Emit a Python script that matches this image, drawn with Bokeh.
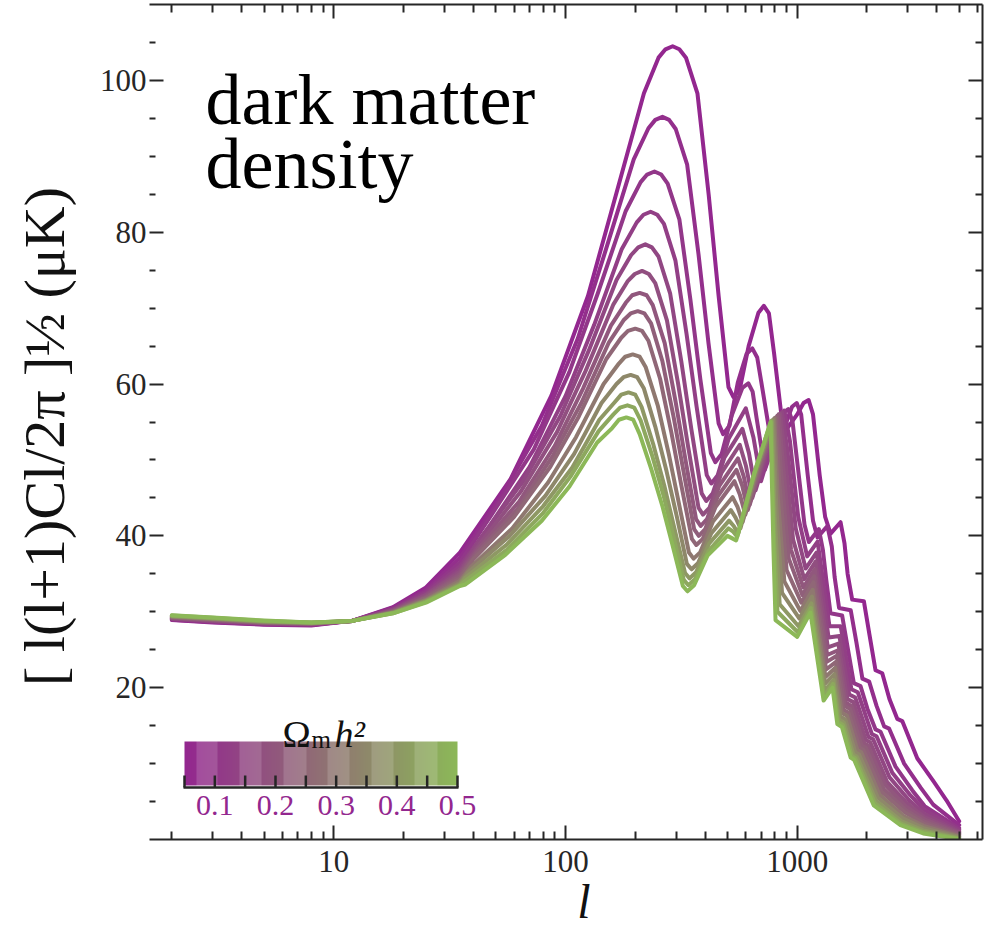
import math
from bokeh.plotting import figure
from bokeh.models import (Range1d, LinearAxis, LogAxis, FixedTicker, ColorBar,
                          LinearColorMapper, Label)
from bokeh.embed import file_html
from bokeh.resources import INLINE

# ---------------- data ----------------
OMH2 = [0.05, 0.075, 0.1, 0.125, 0.15, 0.175, 0.2, 0.225, 0.25, 0.3, 0.35, 0.4, 0.45, 0.5]

L0 = [2, 3, 5, 8, 12, 18, 25, 35, 58, 87, 125, 165, 218, 252, 270, 290, 310, 331, 371, 415, 458, 505, 530, 565, 617, 680, 718, 755, 795, 873, 1000, 1065, 1120, 1170, 1250, 1320, 1393, 1538, 1600, 1650, 1727, 1939, 2050, 2177, 2328, 2500, 2702, 2840, 3296, 3890, 4400, 5000]
V0 = [28.9, 28.6, 28.3, 28.2, 28.8, 30.6, 33.2, 37.8, 47.5, 58.5, 71.6, 84.9, 98.3, 103.0, 104.1, 104.5, 104.1, 103.0, 98.3, 84.9, 71.6, 59.6, 58.3, 59.3, 65.0, 69.4, 70.3, 69.3, 64.0, 53.5, 56.0, 57.5, 57.9, 56.0, 48.0, 42.5, 40.3, 41.8, 39.0, 35.0, 31.6, 31.4, 27.0, 22.3, 21.9, 18.5, 15.9, 15.6, 10.7, 7.6, 5.2, 2.4]

L1 = [2, 3, 5, 8, 12, 18, 25, 35, 52, 79, 113, 149, 197, 228, 244, 262, 280, 299, 335, 375, 414, 458, 479, 510, 554, 605, 640, 672, 710, 787, 885, 950, 995, 1040, 1110, 1170, 1223, 1350, 1410, 1450, 1516, 1702, 1800, 1911, 2044, 2200, 2372, 2494, 2894, 3415, 3863, 5000]
V1 = [28.95, 28.65, 28.35, 28.25, 28.8, 30.5, 32.9, 37.1, 44.9, 54.5, 66.0, 77.6, 89.6, 93.7, 94.8, 95.2, 94.8, 93.6, 88.9, 77.1, 65.4, 54.8, 53.4, 54.5, 60.2, 64.0, 64.7, 63.5, 59.1, 50.8, 54.5, 57.0, 57.5, 56.0, 48.0, 42.0, 39.8, 41.3, 38.6, 34.6, 30.5, 30.2, 26.0, 21.2, 20.8, 17.6, 14.9, 14.6, 10.0, 6.8, 4.6, 1.9]

L2 = [2, 3, 5, 8, 12, 18, 25, 35, 48, 73, 104, 138, 182, 211, 225, 242, 259, 276, 310, 346, 382, 424, 443, 472, 522, 580, 615, 642, 668, 725, 814, 870, 915, 955, 1020, 1075, 1123, 1240, 1290, 1335, 1392, 1563, 1650, 1755, 1876, 2010, 2178, 2289, 2657, 3135, 3546, 5000]
V2 = [29.0, 28.7, 28.4, 28.3, 28.8, 30.4, 32.7, 36.5, 42.8, 51.4, 61.6, 72.0, 82.8, 86.6, 87.6, 88.0, 87.6, 86.4, 81.7, 71.1, 60.6, 50.9, 49.7, 50.8, 55.9, 59.5, 60.1, 59.0, 55.5, 48.7, 53.1, 56.2, 56.7, 55.0, 47.5, 41.5, 39.2, 40.9, 38.2, 34.2, 29.8, 29.5, 25.3, 20.6, 20.2, 17.2, 14.5, 14.2, 9.6, 6.5, 4.4, 1.5]

L3 = [2, 3, 5, 8, 12, 18, 25, 35, 47, 70, 100, 133, 175, 203, 217, 233, 249, 266, 298, 333, 368, 407, 426, 454, 506, 600, 647, 698, 784, 880, 930, 1010, 1104, 1224, 1378, 1540, 1713, 1825, 2098, 2200, 2572, 3082, 3539, 5000]
V3 = [29.05, 28.75, 28.45, 28.35, 28.8, 30.3, 32.5, 36.0, 41.3, 49.1, 58.4, 67.8, 77.8, 81.3, 82.3, 82.7, 82.3, 81.1, 76.3, 66.6, 57.0, 48.0, 46.9, 48.0, 52.8, 56.8, 53.0, 47.2, 52.3, 56.5, 52.5, 42.5, 37.3, 39.25, 28.1, 28.1, 19.8, 19.4, 13.9, 13.6, 8.8, 5.8, 3.9, 1.28]

L4 = [2, 3, 5, 8, 12, 18, 25, 35, 44, 66, 95, 126, 166, 192, 206, 221, 236, 252, 283, 316, 349, 387, 405, 432, 485, 580, 619, 661, 754, 860, 905, 985, 1087, 1211, 1366, 1521, 1677, 1781, 2032, 2127, 2501, 3035, 3533, 5000]
V4 = [29.1, 28.8, 28.5, 28.4, 28.8, 30.25, 32.3, 35.6, 40.1, 47.3, 55.8, 64.4, 73.7, 77.0, 78.0, 78.4, 78.0, 76.8, 71.9, 63.0, 54.1, 45.6, 44.6, 45.6, 50.3, 54.1, 50.9, 46.0, 51.7, 56.3, 51.5, 41.0, 35.7, 37.8, 26.6, 26.8, 19.1, 18.7, 13.5, 13.2, 8.2, 5.2, 3.4, 1.09]

L5 = [2, 3, 5, 8, 12, 18, 25, 35, 43, 64, 92, 122, 161, 186, 199, 214, 229, 244, 274, 306, 338, 375, 392, 418, 471, 565, 601, 640, 735, 845, 885, 960, 1073, 1200, 1356, 1505, 1647, 1746, 1978, 2066, 2442, 2996, 3528, 5000]
V5 = [29.15, 28.85, 28.5, 28.4, 28.8, 30.2, 32.2, 35.3, 39.1, 45.8, 53.7, 61.7, 70.5, 73.6, 74.5, 74.9, 74.5, 73.3, 68.4, 60.1, 51.8, 43.7, 42.8, 43.7, 48.3, 52.0, 49.2, 45.0, 51.1, 56.1, 50.5, 39.5, 34.3, 36.6, 25.3, 25.8, 18.5, 18.1, 13.1, 12.8, 7.6, 4.7, 3.0, 0.93]

L6 = [2, 3, 5, 8, 12, 18, 25, 35, 42, 63, 90, 119, 157, 182, 194, 209, 224, 238, 268, 299, 330, 366, 383, 408, 461, 555, 588, 624, 721, 832, 868, 940, 1062, 1191, 1347, 1493, 1623, 1717, 1934, 2018, 2395, 2965, 3525, 5000]
V6 = [29.2, 28.9, 28.55, 28.45, 28.8, 30.1, 32.0, 35.0, 38.3, 44.5, 51.9, 59.4, 67.7, 70.7, 71.7, 72.0, 71.7, 70.4, 65.4, 57.6, 49.9, 42.2, 41.3, 42.2, 46.6, 50.2, 47.8, 44.1, 50.6, 56.0, 49.5, 38.2, 33.2, 35.6, 24.3, 24.9, 18.0, 17.6, 12.7, 12.4, 7.2, 4.3, 2.7, 0.80]

L7 = [2, 3, 5, 8, 12, 18, 25, 35, 41, 62, 88, 117, 154, 178, 191, 205, 219, 234, 262, 293, 324, 359, 376, 401, 454, 547, 579, 612, 708, 820, 852, 920, 1052, 1183, 1340, 1482, 1602, 1692, 1896, 1976, 2354, 2938, 3521, 5000]
V7 = [29.25, 28.95, 28.55, 28.45, 28.8, 30.05, 31.9, 34.7, 37.6, 43.5, 50.5, 57.5, 65.5, 68.4, 69.3, 69.6, 69.3, 68.0, 63.0, 55.6, 48.3, 40.9, 40.0, 40.9, 45.2, 48.7, 46.6, 43.4, 50.2, 55.8, 48.5, 37.0, 32.2, 34.7, 23.4, 24.2, 17.6, 17.2, 12.4, 12.1, 6.7, 3.9, 2.4, 0.69]

L8 = [2, 3, 5, 8, 12, 18, 25, 35, 40, 60, 86, 114, 150, 174, 186, 200, 214, 228, 256, 286, 316, 351, 367, 391, 444, 536, 566, 597, 695, 808, 838, 900, 1042, 1175, 1332, 1470, 1580, 1667, 1858, 1935, 2313, 2911, 3518, 5000]
V8 = [29.3, 29.0, 28.6, 28.5, 28.8, 30.0, 31.8, 34.4, 36.9, 42.5, 49.1, 55.7, 63.3, 66.1, 67.0, 67.3, 67.0, 65.7, 60.7, 53.7, 46.7, 39.6, 38.8, 39.6, 43.8, 47.2, 45.4, 42.8, 49.8, 55.6, 47.0, 35.5, 31.2, 33.9, 22.4, 23.4, 17.1, 16.7, 12.1, 11.8, 6.3, 3.6, 2.1, 0.57]

L9 = [2, 3, 5, 8, 12, 18, 25, 35, 39, 59, 84, 111, 146, 170, 181, 195, 209, 222, 250, 279, 308, 341, 357, 381, 433, 526, 553, 581, 680, 797, 823, 880, 1032, 1166, 1324, 1457, 1557, 1640, 1818, 1889, 2268, 2880, 3513, 5000]
V9 = [29.35, 29.05, 28.65, 28.5, 28.8, 29.95, 31.6, 34.1, 35.9, 41.0, 47.0, 53.0, 60.0, 62.7, 63.6, 63.9, 63.6, 62.2, 57.2, 50.8, 44.4, 37.8, 37.0, 37.8, 41.9, 45.1, 43.8, 41.8, 49.3, 55.5, 45.5, 34.0, 30.1, 32.9, 21.4, 22.6, 16.7, 16.3, 11.8, 11.5, 5.9, 3.1, 1.8, 0.44]

L10 = [2, 3, 5, 8, 12, 18, 25, 35, 38, 57, 82, 109, 143, 166, 178, 191, 204, 218, 244, 273, 302, 334, 350, 373, 425, 517, 542, 569, 670, 788, 812, 860, 1022, 1158, 1317, 1446, 1537, 1615, 1781, 1850, 2230, 2852, 3509, 5000]
V10 = [29.4, 29.1, 28.7, 28.55, 28.8, 29.9, 31.5, 33.8, 35.2, 39.9, 45.3, 50.8, 57.5, 60.0, 60.9, 61.2, 60.9, 59.4, 54.4, 48.5, 42.6, 36.3, 35.6, 36.4, 40.3, 43.4, 42.4, 41.0, 48.9, 55.3, 44.0, 32.5, 29.1, 32.0, 20.5, 21.8, 16.2, 15.8, 11.5, 11.2, 5.5, 2.8, 1.5, 0.33]

L11 = [2, 3, 5, 8, 12, 18, 25, 35, 37, 56, 80, 107, 140, 163, 174, 187, 200, 213, 239, 267, 295, 328, 343, 366, 417, 508, 532, 557, 658, 778, 800, 840, 1013, 1151, 1310, 1435, 1517, 1592, 1747, 1812, 2191, 2826, 3505, 5000]
V11 = [29.45, 29.15, 28.75, 28.55, 28.8, 29.85, 31.4, 33.6, 34.5, 38.9, 43.9, 49.0, 55.3, 57.6, 58.6, 58.9, 58.6, 57.0, 52.1, 46.6, 41.0, 35.1, 34.4, 35.2, 39.0, 42.0, 41.3, 40.3, 48.5, 55.2, 42.5, 31.0, 28.1, 31.1, 19.6, 21.0, 15.8, 15.4, 11.2, 10.9, 5.1, 2.4, 1.2, 0.21]

L12 = [2, 3, 5, 8, 12, 18, 25, 35, 37, 56, 80, 105, 139, 161, 172, 185, 198, 211, 237, 265, 292, 324, 339, 362, 414, 505, 527, 551, 652, 772, 793, 822, 1006, 1145, 1305, 1427, 1502, 1574, 1721, 1784, 2163, 2806, 3502, 5000]
V12 = [29.5, 29.2, 28.8, 28.6, 28.8, 29.8, 31.3, 33.5, 34.1, 38.2, 43.0, 47.8, 53.8, 56.0, 56.9, 57.2, 56.9, 55.2, 50.5, 45.3, 40.0, 34.2, 33.5, 34.3, 38.0, 41.0, 40.6, 39.9, 48.3, 55.1, 40.5, 30.0, 27.3, 30.5, 18.9, 20.5, 15.5, 15.1, 11.0, 10.7, 4.8, 2.1, 0.98, 0.12]

L13 = [2, 3, 5, 8, 12, 18, 25, 35, 37, 55, 79, 104, 137, 159, 170, 183, 196, 209, 234, 262, 289, 321, 336, 359, 410, 500, 522, 545, 647, 767, 790, 806, 1000, 1140, 1300, 1420, 1490, 1560, 1700, 1760, 2140, 2790, 3500, 5000]
V13 = [29.55, 29.25, 28.85, 28.6, 28.8, 29.8, 31.2, 33.4, 33.6, 37.5, 42.0, 46.5, 52.3, 54.2, 55.3, 55.6, 55.3, 53.4, 48.9, 43.9, 38.9, 33.4, 32.7, 33.5, 37.4, 40.0, 39.7, 39.4, 47.8, 55.0, 38.0, 28.9, 26.7, 29.9, 18.3, 20.0, 15.2, 14.8, 10.8, 10.5, 4.5, 1.9, 0.8, 0.05]

X_MAJOR = [10, 100, 1000]
X_MINOR = [2, 3, 4, 5, 6, 7, 8, 9, 20, 30, 40, 50, 60, 70, 80, 90,
           200, 300, 400, 500, 600, 700, 800, 900, 2000, 3000, 4000, 5000, 6000]
Y_MAJOR = [20, 40, 60, 80, 100]
Y_MINOR = [5, 10, 15, 25, 30, 35, 45, 50, 55, 65, 70, 75, 85, 90, 95, 105]
CB_MAJOR = [0.1, 0.2, 0.3, 0.4, 0.5]
CB_MINOR = [0.05, 0.15, 0.25, 0.35, 0.45]

CURVES_L = [L0, L1, L2, L3, L4, L5, L6, L7, L8, L9, L10, L11, L12, L13]
CURVES_V = [V0, V1, V2, V3, V4, V5, V6, V7, V8, V9, V10, V11, V12, V13]

# ---------------- style ----------------
SERIF = "Liberation Serif"
INK = "#262626"
PURPLE = (147, 39, 143)
GREEN = (140, 184, 88)
LO, HI = 0.05, 0.5
XR = (1.602, 6304)
YR = (0, 110)
FW, FH = 833, 835


def blend(t, lift=0.0):
    c = [a + (b - a) * t for a, b in zip(PURPLE, GREEN)]
    c = [v + (255 - v) * lift for v in c]
    return "#%02x%02x%02x" % tuple(int(round(v)) for v in c)


def frame_x(px):
    """screen offset inside the frame -> data x (log axis)"""
    a, b = math.log10(XR[0]), math.log10(XR[1])
    return 10 ** (a + px / FW * (b - a))


def frame_y(py):
    return YR[0] + py / FH * (YR[1] - YR[0])


striped = []
for i in range(256):
    t = i / 255
    phase = (t * 6.2 + 0.75) % 1.0
    striped.append(blend(t, 0.15 if phase < 0.5 else 0.0))

p = figure(x_axis_type="log", x_range=Range1d(*XR), y_range=Range1d(*YR),
           frame_width=FW, frame_height=FH,
           min_border_left=149, min_border_right=6, min_border_top=4, min_border_bottom=92,
           output_backend="svg", toolbar_location=None)
p.outline_line_color = None
p.xgrid.visible = False
p.ygrid.visible = False
p.background_fill_color = "white"
p.border_fill_color = "white"

for w, xs, ys in zip(OMH2, CURVES_L, CURVES_V):
    t = (w - LO) / (HI - LO)
    p.line(xs, ys, line_width=4, line_color=blend(t), line_join="round", line_cap="round")


def style_axis(ax, labels=True):
    ax.axis_line_color = INK
    ax.axis_line_width = 2
    ax.major_tick_line_color = INK
    ax.major_tick_line_width = 2
    ax.minor_tick_line_color = INK
    ax.minor_tick_line_width = 2
    ax.major_tick_out = 0
    ax.minor_tick_out = 0
    ax.major_label_text_font = SERIF
    if labels:
        ax.major_label_text_font_size = "31px"
        ax.major_label_text_color = INK
    else:
        ax.major_label_text_font_size = "1px"
        ax.major_label_text_alpha = 0
        ax.major_label_standoff = 0


# bottom
xb = p.xaxis[0]
xb.ticker = FixedTicker(ticks=X_MAJOR, minor_ticks=X_MINOR)
xb.major_label_overrides = {10: "10", 100: "100", 1000: "1000"}
style_axis(xb)
xb.major_tick_in = 14
xb.minor_tick_in = 8
xb.major_label_standoff = 11
xb.axis_label = "\u00a0\u00a0\u00a0l"
xb.axis_label_text_font = SERIF
xb.axis_label_text_font_style = "italic"
xb.axis_label_text_font_size = "48px"
xb.axis_label_text_color = "#111111"
xb.axis_label_standoff = 0

# top
xt = LogAxis(ticker=FixedTicker(ticks=X_MAJOR, minor_ticks=X_MINOR))
style_axis(xt, labels=False)
xt.major_tick_in = 14
xt.minor_tick_in = 8
p.add_layout(xt, "above")

# left
yl = p.yaxis[0]
yl.ticker = FixedTicker(ticks=Y_MAJOR, minor_ticks=Y_MINOR)
style_axis(yl)
yl.axis_line_color = None
yl.major_tick_in = 14
yl.minor_tick_in = 6
yl.major_label_standoff = 3
yl.axis_label = "[ l(l+1)Cl/2\u03c0 ]\u00bd (\u03bcK)\u00a0\u00a0"
yl.axis_label_text_font = SERIF
yl.axis_label_text_font_style = "normal"
yl.axis_label_text_font_size = "58px"
yl.axis_label_text_color = "#111111"
yl.axis_label_standoff = 20

# right
yr = LinearAxis(ticker=FixedTicker(ticks=Y_MAJOR, minor_ticks=Y_MINOR))
style_axis(yr, labels=False)
yr.major_tick_in = 14
yr.minor_tick_in = 7
p.add_layout(yr, "right")

# caption
p.add_layout(Label(x=56, y=740, x_units="screen", y_units="screen", text="dark matter",
                   text_font=SERIF, text_font_size="72px", text_color="black",
                   text_baseline="alphabetic"))
p.add_layout(Label(x=56, y=676, x_units="screen", y_units="screen", text="density",
                   text_font=SERIF, text_font_size="72px", text_color="black",
                   text_baseline="alphabetic"))

# colour bar legend
CB_X0, CB_W, CB_Y0 = 35, 273, 52
mapper = LinearColorMapper(palette=striped, low=LO, high=HI)
cb = ColorBar(color_mapper=mapper, orientation="horizontal", width=CB_W, height=44,
              location=(CB_X0, 22), padding=0,
              ticker=FixedTicker(ticks=CB_MAJOR, minor_ticks=CB_MINOR),
              major_tick_in=0, major_tick_out=0, minor_tick_in=0, minor_tick_out=0,
              major_label_text_font=SERIF, major_label_text_font_size="30px",
              major_label_text_color="#93278f", label_standoff=10,
              bar_line_color=None, border_line_color=None, background_fill_alpha=0)
p.add_layout(cb, "center")

# base line and ticks of the colour bar, placed from the bar's own geometry
cb_ticks = sorted(CB_MAJOR + CB_MINOR)
tx = [frame_x(CB_X0 + (v - LO) / (HI - LO) * CB_W) for v in cb_ticks]
seg = p.segment(x0=tx + [frame_x(CB_X0 - 1)], y0=[frame_y(CB_Y0)] * len(tx) + [frame_y(CB_Y0)],
                x1=tx + [frame_x(CB_X0 + CB_W + 1)], y1=[frame_y(CB_Y0 + 12)] * len(tx) + [frame_y(CB_Y0)],
                line_color=INK, line_width=2.5)
seg.level = "overlay"

# legend title  Omega_m h^2
p.add_layout(Label(x=133, y=106, x_units="screen", y_units="screen", text="\u03a9",
                   text_font=SERIF, text_font_size="38px", text_color="#111111",
                   text_baseline="alphabetic"))
p.add_layout(Label(x=162, y=100, x_units="screen", y_units="screen", text="m",
                   text_font=SERIF, text_font_size="25px", text_color="#111111",
                   text_baseline="alphabetic"))
p.add_layout(Label(x=185, y=106, x_units="screen", y_units="screen", text="h\u00b2",
                   text_font=SERIF, text_font_style="italic", text_font_size="38px",
                   text_color="#111111", text_baseline="alphabetic"))

open("out.html", "w").write(file_html(p, INLINE))
